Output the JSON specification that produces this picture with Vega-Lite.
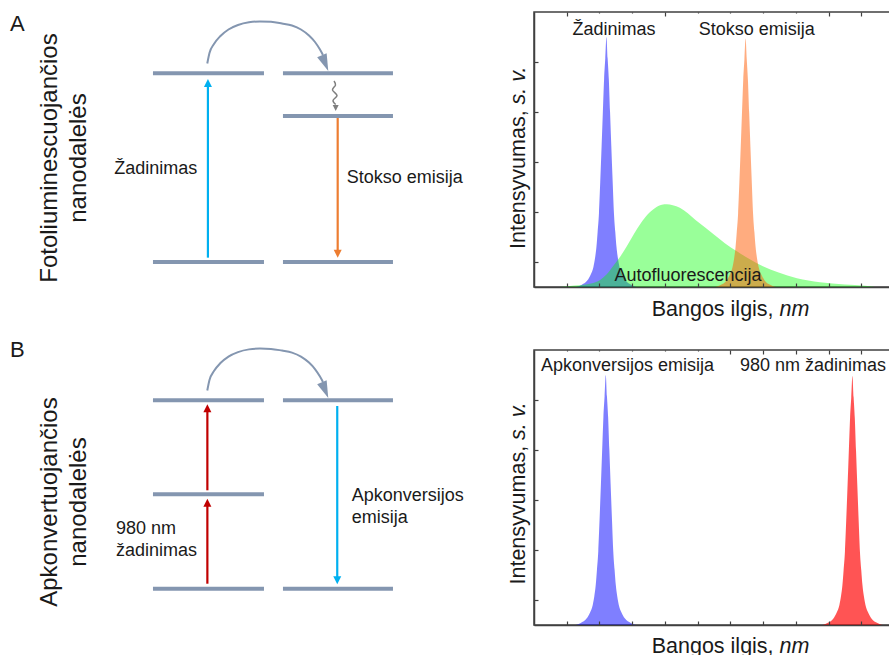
{
"$schema":"https://vega.github.io/schema/vega-lite/v6.json",
"background":"white",
"padding":{"left":0,"top":10,"right":0,"bottom":0},
"autosize":{"type":"pad"},
"bounds":"flush",
"columns":2,
"spacing":{"row":63,"column":54},
"config":{"font":"Liberation Sans","view":{"stroke":null},"axis":{"grid":false},"text":{"fill":"#1a1a1a"}},
"datasets":{
"arc":[{"i":0,"u":0.4892,"e":1.0519},{"i":1,"u":0.509,"e":1.1076},{"i":2,"u":0.5495,"e":1.1553},{"i":3,"u":0.6081,"e":1.1977},{"i":4,"u":0.6802,"e":1.2321},{"i":5,"u":0.7658,"e":1.256},{"i":6,"u":0.8649,"e":1.2703},{"i":7,"u":0.964,"e":1.2745},{"i":8,"u":1.0631,"e":1.2729},{"i":9,"u":1.1622,"e":1.2639},{"i":10,"u":1.2523,"e":1.2533},{"i":11,"u":1.3333,"e":1.2321},{"i":12,"u":1.4054,"e":1.2003},{"i":13,"u":1.4595,"e":1.1659},{"i":14,"u":1.5045,"e":1.1261},{"i":15,"u":1.5315,"e":1.097}],
"arcHead":[{"u":1.5505,"e":1.0541}],
"peaksA":[
{"s":"Žadinimas","x":1.294,"y":0},{"s":"Žadinimas","x":1.449,"y":0.04},{"s":"Žadinimas","x":1.633,"y":0.133},{"s":"Žadinimas","x":1.734,"y":0.25},{"s":"Žadinimas","x":1.816,"y":0.4025},{"s":"Žadinimas","x":1.864,"y":0.575},{"s":"Žadinimas","x":1.908,"y":0.805},{"s":"Žadinimas","x":1.944,"y":1.1},{"s":"Žadinimas","x":1.985,"y":1.475},{"s":"Žadinimas","x":2.024,"y":2.1},{"s":"Žadinimas","x":2.066,"y":2.82},{"s":"Žadinimas","x":2.104,"y":3.5},{"s":"Žadinimas","x":2.142,"y":4.16},{"s":"Žadinimas","x":2.178,"y":4.575},{"s":"Žadinimas","x":2.214,"y":5.0},{"s":"Žadinimas","x":2.25,"y":4.575},{"s":"Žadinimas","x":2.286,"y":4.16},{"s":"Žadinimas","x":2.324,"y":3.5},{"s":"Žadinimas","x":2.362,"y":2.82},{"s":"Žadinimas","x":2.404,"y":2.1},{"s":"Žadinimas","x":2.443,"y":1.475},{"s":"Žadinimas","x":2.484,"y":1.1},{"s":"Žadinimas","x":2.52,"y":0.805},{"s":"Žadinimas","x":2.564,"y":0.575},{"s":"Žadinimas","x":2.612,"y":0.4025},{"s":"Žadinimas","x":2.694,"y":0.25},{"s":"Žadinimas","x":2.795,"y":0.133},{"s":"Žadinimas","x":2.979,"y":0.04},{"s":"Žadinimas","x":3.134,"y":0},
{"s":"Stokso emisija","x":5.545,"y":0},{"s":"Stokso emisija","x":5.7,"y":0.04},{"s":"Stokso emisija","x":5.884,"y":0.132},{"s":"Stokso emisija","x":5.985,"y":0.249},{"s":"Stokso emisija","x":6.067,"y":0.4},{"s":"Stokso emisija","x":6.115,"y":0.572},{"s":"Stokso emisija","x":6.159,"y":0.8},{"s":"Stokso emisija","x":6.195,"y":1.093},{"s":"Stokso emisija","x":6.236,"y":1.466},{"s":"Stokso emisija","x":6.275,"y":2.087},{"s":"Stokso emisija","x":6.317,"y":2.803},{"s":"Stokso emisija","x":6.355,"y":3.479},{"s":"Stokso emisija","x":6.393,"y":4.135},{"s":"Stokso emisija","x":6.429,"y":4.548},{"s":"Stokso emisija","x":6.465,"y":4.97},{"s":"Stokso emisija","x":6.501,"y":4.548},{"s":"Stokso emisija","x":6.537,"y":4.135},{"s":"Stokso emisija","x":6.575,"y":3.479},{"s":"Stokso emisija","x":6.613,"y":2.803},{"s":"Stokso emisija","x":6.655,"y":2.087},{"s":"Stokso emisija","x":6.694,"y":1.466},{"s":"Stokso emisija","x":6.735,"y":1.093},{"s":"Stokso emisija","x":6.771,"y":0.8},{"s":"Stokso emisija","x":6.815,"y":0.572},{"s":"Stokso emisija","x":6.863,"y":0.4},{"s":"Stokso emisija","x":6.945,"y":0.249},{"s":"Stokso emisija","x":7.046,"y":0.132},{"s":"Stokso emisija","x":7.23,"y":0.04},{"s":"Stokso emisija","x":7.385,"y":0},
{"s":"Autofluorescencija","x":0.786,"y":0},{"s":"Autofluorescencija","x":1.245,"y":0.028},{"s":"Autofluorescencija","x":1.703,"y":0.064},{"s":"Autofluorescencija","x":2.009,"y":0.134},{"s":"Autofluorescencija","x":2.223,"y":0.254},{"s":"Autofluorescencija","x":2.437,"y":0.434},{"s":"Autofluorescencija","x":2.621,"y":0.595},{"s":"Autofluorescencija","x":2.835,"y":0.815},{"s":"Autofluorescencija","x":3.049,"y":1.055},{"s":"Autofluorescencija","x":3.263,"y":1.275},{"s":"Autofluorescencija","x":3.477,"y":1.456},{"s":"Autofluorescencija","x":3.691,"y":1.576},{"s":"Autofluorescencija","x":3.905,"y":1.646},{"s":"Autofluorescencija","x":4.058,"y":1.656},{"s":"Autofluorescencija","x":4.242,"y":1.636},{"s":"Autofluorescencija","x":4.456,"y":1.586},{"s":"Autofluorescencija","x":4.7,"y":1.476},{"s":"Autofluorescencija","x":4.945,"y":1.335},{"s":"Autofluorescencija","x":5.22,"y":1.195},{"s":"Autofluorescencija","x":5.526,"y":1.035},{"s":"Autofluorescencija","x":5.832,"y":0.875},{"s":"Autofluorescencija","x":6.199,"y":0.715},{"s":"Autofluorescencija","x":6.596,"y":0.555},{"s":"Autofluorescencija","x":6.994,"y":0.414},{"s":"Autofluorescencija","x":7.453,"y":0.294},{"s":"Autofluorescencija","x":8.034,"y":0.174},{"s":"Autofluorescencija","x":8.737,"y":0.094},{"s":"Autofluorescencija","x":9.502,"y":0.048},{"s":"Autofluorescencija","x":10.113,"y":0.024},{"s":"Autofluorescencija","x":10.419,"y":0}
],
"peaksB":[
{"s":"Apkonversijos emisija","x":1.273,"y":0},{"s":"Apkonversijos emisija","x":1.428,"y":0.04},{"s":"Apkonversijos emisija","x":1.612,"y":0.133},{"s":"Apkonversijos emisija","x":1.713,"y":0.25},{"s":"Apkonversijos emisija","x":1.795,"y":0.4025},{"s":"Apkonversijos emisija","x":1.843,"y":0.575},{"s":"Apkonversijos emisija","x":1.887,"y":0.805},{"s":"Apkonversijos emisija","x":1.923,"y":1.1},{"s":"Apkonversijos emisija","x":1.964,"y":1.475},{"s":"Apkonversijos emisija","x":2.003,"y":2.1},{"s":"Apkonversijos emisija","x":2.045,"y":2.82},{"s":"Apkonversijos emisija","x":2.083,"y":3.5},{"s":"Apkonversijos emisija","x":2.121,"y":4.16},{"s":"Apkonversijos emisija","x":2.157,"y":4.575},{"s":"Apkonversijos emisija","x":2.193,"y":5.0},{"s":"Apkonversijos emisija","x":2.229,"y":4.575},{"s":"Apkonversijos emisija","x":2.265,"y":4.16},{"s":"Apkonversijos emisija","x":2.303,"y":3.5},{"s":"Apkonversijos emisija","x":2.341,"y":2.82},{"s":"Apkonversijos emisija","x":2.383,"y":2.1},{"s":"Apkonversijos emisija","x":2.422,"y":1.475},{"s":"Apkonversijos emisija","x":2.463,"y":1.1},{"s":"Apkonversijos emisija","x":2.499,"y":0.805},{"s":"Apkonversijos emisija","x":2.543,"y":0.575},{"s":"Apkonversijos emisija","x":2.591,"y":0.4025},{"s":"Apkonversijos emisija","x":2.673,"y":0.25},{"s":"Apkonversijos emisija","x":2.774,"y":0.133},{"s":"Apkonversijos emisija","x":2.958,"y":0.04},{"s":"Apkonversijos emisija","x":3.113,"y":0},
{"s":"980 nm žadinimas","x":8.81,"y":0},{"s":"980 nm žadinimas","x":8.965,"y":0.04},{"s":"980 nm žadinimas","x":9.149,"y":0.132},{"s":"980 nm žadinimas","x":9.25,"y":0.249},{"s":"980 nm žadinimas","x":9.332,"y":0.401},{"s":"980 nm žadinimas","x":9.38,"y":0.573},{"s":"980 nm žadinimas","x":9.424,"y":0.802},{"s":"980 nm žadinimas","x":9.46,"y":1.096},{"s":"980 nm žadinimas","x":9.501,"y":1.469},{"s":"980 nm žadinimas","x":9.54,"y":2.092},{"s":"980 nm žadinimas","x":9.582,"y":2.809},{"s":"980 nm žadinimas","x":9.62,"y":3.486},{"s":"980 nm žadinimas","x":9.658,"y":4.143},{"s":"980 nm žadinimas","x":9.694,"y":4.557},{"s":"980 nm žadinimas","x":9.73,"y":4.98},{"s":"980 nm žadinimas","x":9.766,"y":4.557},{"s":"980 nm žadinimas","x":9.802,"y":4.143},{"s":"980 nm žadinimas","x":9.84,"y":3.486},{"s":"980 nm žadinimas","x":9.878,"y":2.809},{"s":"980 nm žadinimas","x":9.92,"y":2.092},{"s":"980 nm žadinimas","x":9.959,"y":1.469},{"s":"980 nm žadinimas","x":10.0,"y":1.096},{"s":"980 nm žadinimas","x":10.036,"y":0.802},{"s":"980 nm žadinimas","x":10.08,"y":0.573},{"s":"980 nm žadinimas","x":10.128,"y":0.401},{"s":"980 nm žadinimas","x":10.21,"y":0.249},{"s":"980 nm žadinimas","x":10.311,"y":0.132},{"s":"980 nm žadinimas","x":10.495,"y":0.04},{"s":"980 nm žadinimas","x":10.65,"y":0}
]
},
"concat":[
{"width":480,"height":275,
 "layer":[
  {"data":{"values":[{"u1":0,"u2":1,"e":1},{"u1":0,"u2":1,"e":0},{"u1":1.171,"u2":2.162,"e":1},{"u1":1.171,"u2":2.162,"e":0.774},{"u1":1.171,"u2":2.162,"e":0}]},
   "mark":{"type":"rule","color":"#8496B0","strokeWidth":4},
   "encoding":{"x":{"field":"u1","type":"quantitative","scale":{"domain":[-1.378,2.946],"nice":false,"zero":false},"axis":null},"x2":{"field":"u2"},"y":{"field":"e","type":"quantitative","scale":{"domain":[-0.1325,1.3249],"nice":false,"zero":false},"axis":null}}},
  {"data":{"values":[{"kind":"Žadinimas","u":0.495,"e1":0.023,"e2":0.9486,"dir":"up"},{"kind":"Stokso emisija","u":1.664,"e1":0.763,"e2":0.044,"dir":"down"}]},
   "layer":[
    {"mark":{"type":"rule","strokeWidth":2.2},
     "encoding":{"x":{"field":"u","type":"quantitative","scale":{"domain":[-1.378,2.946],"nice":false,"zero":false},"axis":null},"y":{"field":"e1","type":"quantitative","scale":{"domain":[-0.1325,1.3249],"nice":false,"zero":false},"axis":null},"y2":{"field":"e2"},"color":{"field":"kind","type":"nominal","scale":{"domain":["Žadinimas","Stokso emisija","980 nm žadinimas","Apkonversijos emisija"],"range":["#00B0F0","#ED7D31","#C00000","#00B0F0"]},"legend":null}}},
    {"mark":{"type":"point","filled":true,"size":64,"opacity":1},
     "encoding":{"x":{"field":"u","type":"quantitative","scale":{"domain":[-1.378,2.946],"nice":false,"zero":false},"axis":null},"y":{"field":"e2","type":"quantitative","scale":{"domain":[-0.1325,1.3249],"nice":false,"zero":false},"axis":null},"color":{"field":"kind","type":"nominal","scale":{"domain":["Žadinimas","Stokso emisija","980 nm žadinimas","Apkonversijos emisija"],"range":["#00B0F0","#ED7D31","#C00000","#00B0F0"]},"legend":null},"shape":{"field":"dir","type":"nominal","scale":{"domain":["up","down"],"range":["M0,-1L-1,1L1,1Z","M0,1L-1,-1L1,-1Z"]},"legend":null}}}
   ]},
  {"data":{"name":"arc"},"mark":{"type":"line","color":"#8496B0","strokeWidth":2,"interpolate":"monotone"},
   "encoding":{"x":{"field":"u","type":"quantitative","scale":{"domain":[-1.378,2.946],"nice":false,"zero":false},"axis":null},"y":{"field":"e","type":"quantitative","scale":{"domain":[-0.1325,1.3249],"nice":false,"zero":false},"axis":null},"order":{"field":"i","type":"quantitative"}}},
  {"data":{"name":"arcHead"},"mark":{"type":"point","filled":true,"opacity":1,"shape":"M0,1L-0.6,-1L0.6,-1Z","size":289,"angle":338,"color":"#8496B0"},
   "encoding":{"x":{"field":"u","type":"quantitative","scale":{"domain":[-1.378,2.946],"nice":false,"zero":false},"axis":null},"y":{"field":"e","type":"quantitative","scale":{"domain":[-0.1325,1.3249],"nice":false,"zero":false},"axis":null}}},
  {"data":{"values":[{"i":0,"u":1.631,"e":0.959},{"i":1,"u":1.644,"e":0.938},{"i":2,"u":1.617,"e":0.9115},{"i":3,"u":1.658,"e":0.8824},{"i":4,"u":1.622,"e":0.8559},{"i":5,"u":1.646,"e":0.8347}]},
   "mark":{"type":"line","color":"#7F7F7F","strokeWidth":1.5,"interpolate":"cardinal"},
   "encoding":{"x":{"field":"u","type":"quantitative","scale":{"domain":[-1.378,2.946],"nice":false,"zero":false},"axis":null},"y":{"field":"e","type":"quantitative","scale":{"domain":[-0.1325,1.3249],"nice":false,"zero":false},"axis":null},"order":{"field":"i","type":"quantitative"}}},
  {"data":{"values":[{"u":1.646,"e":0.8161}]},"mark":{"type":"point","filled":true,"opacity":1,"shape":"M0,1L-1,-1L1,-1Z","size":36,"color":"#7F7F7F"},
   "encoding":{"x":{"field":"u","type":"quantitative","scale":{"domain":[-1.378,2.946],"nice":false,"zero":false},"axis":null},"y":{"field":"e","type":"quantitative","scale":{"domain":[-0.1325,1.3249],"nice":false,"zero":false},"axis":null}}},
  {"data":{"values":[{"t":"A","u":-1.288,"e":1.224}]},"mark":{"type":"text","fontSize":22,"align":"left","baseline":"alphabetic"},
   "encoding":{"x":{"field":"u","type":"quantitative","scale":{"domain":[-1.378,2.946],"nice":false,"zero":false},"axis":null},"y":{"field":"e","type":"quantitative","scale":{"domain":[-0.1325,1.3249],"nice":false,"zero":false},"axis":null},"text":{"field":"t"}}},
  {"data":{"values":[{"t":"Fotoliuminescuojančios\nnanodalelės","u":-0.865,"e":0.551}]},"mark":{"type":"text","fontSize":24,"angle":270,"align":"center","baseline":"alphabetic","lineHeight":29,"lineBreak":"\n"},
   "encoding":{"x":{"field":"u","type":"quantitative","scale":{"domain":[-1.378,2.946],"nice":false,"zero":false},"axis":null},"y":{"field":"e","type":"quantitative","scale":{"domain":[-0.1325,1.3249],"nice":false,"zero":false},"axis":null},"text":{"field":"t"}}},
  {"data":{"values":[{"t":"Žadinimas","u":0.399,"e":0.465}]},"mark":{"type":"text","fontSize":18,"align":"right","baseline":"alphabetic"},
   "encoding":{"x":{"field":"u","type":"quantitative","scale":{"domain":[-1.378,2.946],"nice":false,"zero":false},"axis":null},"y":{"field":"e","type":"quantitative","scale":{"domain":[-0.1325,1.3249],"nice":false,"zero":false},"axis":null},"text":{"field":"t"}}},
  {"data":{"values":[{"t":"Stokso emisija","u":1.745,"e":0.42}]},"mark":{"type":"text","fontSize":18,"align":"left","baseline":"alphabetic"},
   "encoding":{"x":{"field":"u","type":"quantitative","scale":{"domain":[-1.378,2.946],"nice":false,"zero":false},"axis":null},"y":{"field":"e","type":"quantitative","scale":{"domain":[-0.1325,1.3249],"nice":false,"zero":false},"axis":null},"text":{"field":"t"}}}
 ]},
{"width":360,"height":275,
 "view":{"stroke":"#404040","strokeWidth":1.5},
 "resolve":{"axis":{"x":"independent","y":"independent"}},
 "layer":[
  {"data":{"values":[{"x1":1.1,"x2":3.789,"y1":5.1,"y2":5.47},{"x1":4.889,"x2":8.739,"y1":5.1,"y2":5.47}]},
   "mark":{"type":"rect","fill":"white"},
   "encoding":{"x":{"field":"x1","type":"quantitative","scale":{"domain":[0,11],"nice":false,"zero":false},"axis":{"orient":"top","values":[1,2,3,4,5,6,7,8,9,10],"labels":false,"title":null,"domain":false,"tickSize":-4,"tickColor":"#404040","tickWidth":1.2,"grid":false,"zindex":0}},"x2":{"field":"x2"},"y":{"field":"y1","type":"quantitative","scale":{"domain":[0,5.5],"nice":false,"zero":false},"axis":null},"y2":{"field":"y2"}}},
  {"data":{"name":"peaksA"},"transform":[{"filter":"datum.s == 'Žadinimas'"}],
   "mark":{"type":"area","color":"#0000FF","fillOpacity":0.5,"interpolate":"monotone"},
   "encoding":{"x":{"field":"x","type":"quantitative","scale":{"domain":[0,11],"nice":false,"zero":false},"axis":{"orient":"bottom","values":[1,2,3,4,5,6,7,8,9,10],"labels":false,"title":null,"domain":true,"domainColor":"#404040","domainWidth":1.5,"tickSize":-4,"tickColor":"#404040","tickWidth":1.2,"grid":false,"zindex":1}},"y":{"field":"y","type":"quantitative","scale":{"domain":[0,5.5],"nice":false,"zero":false},"axis":{"orient":"left","values":[0.5,1.5,2.5,3.5,4.5],"labels":false,"title":null,"domain":true,"domainColor":"#404040","domainWidth":1.5,"tickSize":-4,"tickColor":"#404040","tickWidth":1.2,"grid":false,"zindex":1}}}},
  {"data":{"name":"peaksA"},"transform":[{"filter":"datum.s == 'Autofluorescencija'"}],
   "mark":{"type":"area","color":"#00FF00","fillOpacity":0.4,"interpolate":"monotone"},
   "encoding":{"x":{"field":"x","type":"quantitative","scale":{"domain":[0,11],"nice":false,"zero":false},"axis":null},"y":{"field":"y","type":"quantitative","scale":{"domain":[0,5.5],"nice":false,"zero":false},"axis":null}}},
  {"data":{"name":"peaksA"},"transform":[{"filter":"datum.s == 'Stokso emisija'"}],
   "mark":{"type":"area","color":"#FF5A00","fillOpacity":0.5,"interpolate":"monotone"},
   "encoding":{"x":{"field":"x","type":"quantitative","scale":{"domain":[0,11],"nice":false,"zero":false},"axis":null},"y":{"field":"y","type":"quantitative","scale":{"domain":[0,5.5],"nice":false,"zero":false},"axis":null}}},
  {"data":{"values":[{"t":"Žadinimas","x":2.444,"y":5.04},{"t":"Stokso emisija","x":6.805,"y":5.04},{"t":"Autofluorescencija","x":4.706,"y":0.12}]},
   "mark":{"type":"text","fontSize":18,"align":"center","baseline":"alphabetic"},
   "encoding":{"x":{"field":"x","type":"quantitative","scale":{"domain":[0,11],"nice":false,"zero":false},"axis":null},"y":{"field":"y","type":"quantitative","scale":{"domain":[0,5.5],"nice":false,"zero":false},"axis":null},"text":{"field":"t"}}},
  {"data":{"values":[{"t":"Bangos ilgis,","x":3.596,"y":-0.58}]},
   "mark":{"type":"text","fontSize":21.5,"align":"left","baseline":"alphabetic"},
   "encoding":{"x":{"field":"x","type":"quantitative","scale":{"domain":[0,11],"nice":false,"zero":false},"axis":null},"y":{"field":"y","type":"quantitative","scale":{"domain":[0,5.5],"nice":false,"zero":false},"axis":null},"text":{"field":"t"}}},
  {"data":{"values":[{"t":"nm","x":7.505,"y":-0.58}]},
   "mark":{"type":"text","fontSize":21.5,"fontStyle":"italic","align":"left","baseline":"alphabetic"},
   "encoding":{"x":{"field":"x","type":"quantitative","scale":{"domain":[0,11],"nice":false,"zero":false},"axis":null},"y":{"field":"y","type":"quantitative","scale":{"domain":[0,5.5],"nice":false,"zero":false},"axis":null},"text":{"field":"t"}}},
  {"data":{"values":[{"t":"Intensyvumas,","x":-0.275,"y":0.76}]},
   "mark":{"type":"text","fontSize":21.5,"angle":270,"align":"left","baseline":"alphabetic"},
   "encoding":{"x":{"field":"x","type":"quantitative","scale":{"domain":[0,11],"nice":false,"zero":false},"axis":null},"y":{"field":"y","type":"quantitative","scale":{"domain":[0,5.5],"nice":false,"zero":false},"axis":null},"text":{"field":"t"}}},
  {"data":{"values":[{"t":"s. v.","x":-0.275,"y":3.652}]},
   "mark":{"type":"text","fontSize":21.5,"fontStyle":"italic","angle":270,"align":"left","baseline":"alphabetic"},
   "encoding":{"x":{"field":"x","type":"quantitative","scale":{"domain":[0,11],"nice":false,"zero":false},"axis":null},"y":{"field":"y","type":"quantitative","scale":{"domain":[0,5.5],"nice":false,"zero":false},"axis":null},"text":{"field":"t"}}}
 ]},
{"width":480,"height":275,
 "layer":[
  {"data":{"values":[{"u1":0,"u2":1,"e":1},{"u1":0,"u2":1,"e":0.501},{"u1":0,"u2":1,"e":0},{"u1":1.171,"u2":2.162,"e":1},{"u1":1.171,"u2":2.162,"e":0}]},
   "mark":{"type":"rule","color":"#8496B0","strokeWidth":4},
   "encoding":{"x":{"field":"u1","type":"quantitative","scale":{"domain":[-1.378,2.946],"nice":false,"zero":false},"axis":null},"x2":{"field":"u2"},"y":{"field":"e","type":"quantitative","scale":{"domain":[-0.1927,1.267],"nice":false,"zero":false},"axis":null}}},
  {"data":{"values":[{"kind":"980 nm žadinimas","u":0.49,"e1":0.0265,"e2":0.4565,"dir":"up"},{"kind":"980 nm žadinimas","u":0.49,"e1":0.5223,"e2":0.9575,"dir":"up"},{"kind":"Apkonversijos emisija","u":1.66,"e1":0.9697,"e2":0.0446,"dir":"down"}]},
   "layer":[
    {"mark":{"type":"rule","strokeWidth":2.2},
     "encoding":{"x":{"field":"u","type":"quantitative","scale":{"domain":[-1.378,2.946],"nice":false,"zero":false},"axis":null},"y":{"field":"e1","type":"quantitative","scale":{"domain":[-0.1927,1.267],"nice":false,"zero":false},"axis":null},"y2":{"field":"e2"},"color":{"field":"kind","type":"nominal","scale":{"domain":["Žadinimas","Stokso emisija","980 nm žadinimas","Apkonversijos emisija"],"range":["#00B0F0","#ED7D31","#C00000","#00B0F0"]},"legend":null}}},
    {"mark":{"type":"point","filled":true,"size":64,"opacity":1},
     "encoding":{"x":{"field":"u","type":"quantitative","scale":{"domain":[-1.378,2.946],"nice":false,"zero":false},"axis":null},"y":{"field":"e2","type":"quantitative","scale":{"domain":[-0.1927,1.267],"nice":false,"zero":false},"axis":null},"color":{"field":"kind","type":"nominal","scale":{"domain":["Žadinimas","Stokso emisija","980 nm žadinimas","Apkonversijos emisija"],"range":["#00B0F0","#ED7D31","#C00000","#00B0F0"]},"legend":null},"shape":{"field":"dir","type":"nominal","scale":{"domain":["up","down"],"range":["M0,-1L-1,1L1,1Z","M0,1L-1,-1L1,-1Z"]},"legend":null}}}
   ]},
  {"data":{"name":"arc"},"mark":{"type":"line","color":"#8496B0","strokeWidth":2,"interpolate":"monotone"},
   "encoding":{"x":{"field":"u","type":"quantitative","scale":{"domain":[-1.378,2.946],"nice":false,"zero":false},"axis":null},"y":{"field":"e","type":"quantitative","scale":{"domain":[-0.1927,1.267],"nice":false,"zero":false},"axis":null},"order":{"field":"i","type":"quantitative"}}},
  {"data":{"name":"arcHead"},"mark":{"type":"point","filled":true,"opacity":1,"shape":"M0,1L-0.6,-1L0.6,-1Z","size":289,"angle":338,"color":"#8496B0"},
   "encoding":{"x":{"field":"u","type":"quantitative","scale":{"domain":[-1.378,2.946],"nice":false,"zero":false},"axis":null},"y":{"field":"e","type":"quantitative","scale":{"domain":[-0.1927,1.267],"nice":false,"zero":false},"axis":null}}},
  {"data":{"values":[{"t":"B","u":-1.288,"e":1.23}]},"mark":{"type":"text","fontSize":22,"align":"left","baseline":"alphabetic"},
   "encoding":{"x":{"field":"u","type":"quantitative","scale":{"domain":[-1.378,2.946],"nice":false,"zero":false},"axis":null},"y":{"field":"e","type":"quantitative","scale":{"domain":[-0.1927,1.267],"nice":false,"zero":false},"axis":null},"text":{"field":"t"}}},
  {"data":{"values":[{"t":"Apkonvertuojančios\nnanodalelės","u":-0.865,"e":0.46}]},"mark":{"type":"text","fontSize":24,"angle":270,"align":"center","baseline":"alphabetic","lineHeight":29,"lineBreak":"\n"},
   "encoding":{"x":{"field":"u","type":"quantitative","scale":{"domain":[-1.378,2.946],"nice":false,"zero":false},"axis":null},"y":{"field":"e","type":"quantitative","scale":{"domain":[-0.1927,1.267],"nice":false,"zero":false},"axis":null},"text":{"field":"t"}}},
  {"data":{"values":[{"t":"980 nm\nžadinimas","u":-0.333,"e":0.2887},{"t":"Apkonversijos\nemisija","u":1.79,"e":0.4655}]},"mark":{"type":"text","fontSize":18,"align":"left","baseline":"alphabetic","lineHeight":22,"lineBreak":"\n"},
   "encoding":{"x":{"field":"u","type":"quantitative","scale":{"domain":[-1.378,2.946],"nice":false,"zero":false},"axis":null},"y":{"field":"e","type":"quantitative","scale":{"domain":[-0.1927,1.267],"nice":false,"zero":false},"axis":null},"text":{"field":"t"}}}
 ]},
{"width":360,"height":275,
 "view":{"stroke":"#404040","strokeWidth":1.5},
 "resolve":{"axis":{"x":"independent","y":"independent"}},
 "layer":[
  {"data":{"values":[{"x1":0.09,"x2":5.71,"y1":5.12,"y2":5.47}]},
   "mark":{"type":"rect","fill":"white"},
   "encoding":{"x":{"field":"x1","type":"quantitative","scale":{"domain":[0,11],"nice":false,"zero":false},"axis":{"orient":"top","values":[1,2,3,4,5,6,7,8,9,10],"labels":false,"title":null,"domain":false,"tickSize":-4,"tickColor":"#404040","tickWidth":1.2,"grid":false,"zindex":0}},"x2":{"field":"x2"},"y":{"field":"y1","type":"quantitative","scale":{"domain":[0,5.5],"nice":false,"zero":false},"axis":null},"y2":{"field":"y2"}}},
  {"data":{"name":"peaksB"},"transform":[{"filter":"datum.s == 'Apkonversijos emisija'"}],
   "mark":{"type":"area","color":"#0000FF","fillOpacity":0.5,"interpolate":"monotone"},
   "encoding":{"x":{"field":"x","type":"quantitative","scale":{"domain":[0,11],"nice":false,"zero":false},"axis":{"orient":"bottom","values":[1,2,3,4,5,6,7,8,9,10],"labels":false,"title":null,"domain":true,"domainColor":"#404040","domainWidth":1.5,"tickSize":-4,"tickColor":"#404040","tickWidth":1.2,"grid":false,"zindex":1}},"y":{"field":"y","type":"quantitative","scale":{"domain":[0,5.5],"nice":false,"zero":false},"axis":{"orient":"left","values":[0.5,1.5,2.5,3.5,4.5],"labels":false,"title":null,"domain":true,"domainColor":"#404040","domainWidth":1.5,"tickSize":-4,"tickColor":"#404040","tickWidth":1.2,"grid":false,"zindex":1}}}},
  {"data":{"name":"peaksB"},"transform":[{"filter":"datum.s == '980 nm žadinimas'"}],
   "mark":{"type":"area","color":"#FF0000","fillOpacity":0.67,"interpolate":"monotone"},
   "encoding":{"x":{"field":"x","type":"quantitative","scale":{"domain":[0,11],"nice":false,"zero":false},"axis":null},"y":{"field":"y","type":"quantitative","scale":{"domain":[0,5.5],"nice":false,"zero":false},"axis":null}}},
  {"data":{"values":[{"t":"Apkonversijos emisija","x":2.857,"y":5.08}]},
   "mark":{"type":"text","fontSize":18,"align":"center","baseline":"alphabetic"},
   "encoding":{"x":{"field":"x","type":"quantitative","scale":{"domain":[0,11],"nice":false,"zero":false},"axis":null},"y":{"field":"y","type":"quantitative","scale":{"domain":[0,5.5],"nice":false,"zero":false},"axis":null},"text":{"field":"t"}}},
  {"data":{"values":[{"t":"980 nm žadinimas","x":6.294,"y":5.08}]},
   "mark":{"type":"text","fontSize":18,"align":"left","baseline":"alphabetic"},
   "encoding":{"x":{"field":"x","type":"quantitative","scale":{"domain":[0,11],"nice":false,"zero":false},"axis":null},"y":{"field":"y","type":"quantitative","scale":{"domain":[0,5.5],"nice":false,"zero":false},"axis":null},"text":{"field":"t"}}},
  {"data":{"values":[{"t":"Bangos ilgis,","x":3.596,"y":-0.55}]},
   "mark":{"type":"text","fontSize":21.5,"align":"left","baseline":"alphabetic"},
   "encoding":{"x":{"field":"x","type":"quantitative","scale":{"domain":[0,11],"nice":false,"zero":false},"axis":null},"y":{"field":"y","type":"quantitative","scale":{"domain":[0,5.5],"nice":false,"zero":false},"axis":null},"text":{"field":"t"}}},
  {"data":{"values":[{"t":"nm","x":7.505,"y":-0.55}]},
   "mark":{"type":"text","fontSize":21.5,"fontStyle":"italic","align":"left","baseline":"alphabetic"},
   "encoding":{"x":{"field":"x","type":"quantitative","scale":{"domain":[0,11],"nice":false,"zero":false},"axis":null},"y":{"field":"y","type":"quantitative","scale":{"domain":[0,5.5],"nice":false,"zero":false},"axis":null},"text":{"field":"t"}}},
  {"data":{"values":[{"t":"Intensyvumas,","x":-0.275,"y":0.81}]},
   "mark":{"type":"text","fontSize":21.5,"angle":270,"align":"left","baseline":"alphabetic"},
   "encoding":{"x":{"field":"x","type":"quantitative","scale":{"domain":[0,11],"nice":false,"zero":false},"axis":null},"y":{"field":"y","type":"quantitative","scale":{"domain":[0,5.5],"nice":false,"zero":false},"axis":null},"text":{"field":"t"}}},
  {"data":{"values":[{"t":"s. v.","x":-0.275,"y":3.70}]},
   "mark":{"type":"text","fontSize":21.5,"fontStyle":"italic","angle":270,"align":"left","baseline":"alphabetic"},
   "encoding":{"x":{"field":"x","type":"quantitative","scale":{"domain":[0,11],"nice":false,"zero":false},"axis":null},"y":{"field":"y","type":"quantitative","scale":{"domain":[0,5.5],"nice":false,"zero":false},"axis":null},"text":{"field":"t"}}}
 ]}
]
}
